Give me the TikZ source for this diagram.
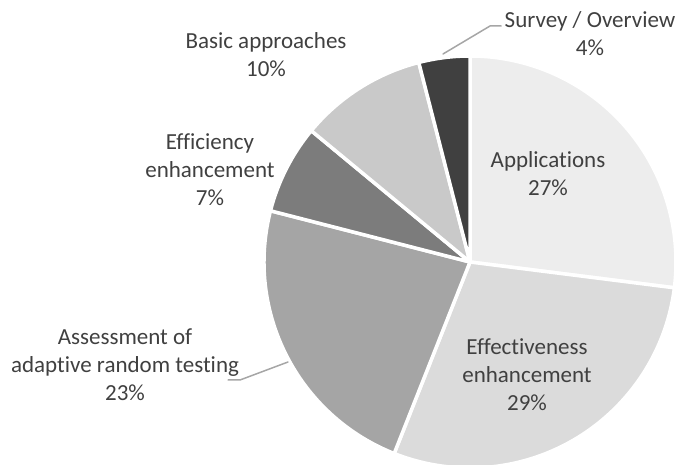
\documentclass[tikz,border=0pt]{standalone}
\usepackage{fontspec}
\setmainfont{Carlito}[Ligatures=NoCommon]
\usetikzlibrary{calc}
\definecolor{txtgray}{RGB}{64,64,64}
\definecolor{leadgray}{RGB}{166,166,166}
\definecolor{appgray}{RGB}{237,237,237}
\definecolor{effgray}{RGB}{219,219,219}
\definecolor{assgray}{RGB}{165,165,165}
\definecolor{ficgray}{RGB}{124,124,124}
\definecolor{basgray}{RGB}{201,201,201}
\definecolor{svygray}{RGB}{64,64,64}
\begin{document}
\begin{tikzpicture}[x=1pt,y=1pt,line join=round,line cap=round,
	lbl/.style={text=txtgray,align=center,font=\fontsize{23}{28}\selectfont},
	leader/.style={draw=leadgray,line width=1.5pt}]
			\def\r{206}
			\useasboundingbox (0,0) rectangle (690,465);
			\coordinate (O) at (470,203);
			% slices, clockwise from the top
			\foreach \a/\b/\c in {90/-7.2/appgray,-7.2/-111.6/effgray,-111.6/-194.4/assgray,-194.4/-219.6/ficgray,-219.6/-255.6/basgray,-255.6/-270/svygray}
				\filldraw[fill=\c,draw=white,line width=3.5pt] (O) -- ($(O)+(\a:\r)$) arc[start angle=\a,end angle=\b,radius=\r] -- cycle;
			% labels
			\node[lbl] (app) at (548,291) {Applications\\27\%};
			\node[lbl] (eff) at (527,90) {Effectiveness\\enhancement\\29\%};
			\node[lbl] (ass) at (125,100) {Assessment of\\adaptive random testing\\23\%};
			\node[lbl] (fic) at (210,295) {Efficiency\\enhancement\\7\%};
			\node[lbl] (bas) at (266,410) {Basic approaches\\10\%};
			\node[lbl] (svy) at (590,431) {Survey / Overview\\4\%};
			% leaders
			\coordinate (svy-edge) at (443,411);
			\coordinate (svy-knee) at (490,439);
			\coordinate (ass-edge) at (288,103);
			\coordinate (ass-knee) at (240,85);
			\coordinate (ass-end) at (228,85);
			\draw[leader] (svy-edge) -- (svy-knee) -- (svy.west |- svy-knee);
			\draw[leader] (ass-edge) -- (ass-knee) -- (ass-end);
	\end{tikzpicture}
\end{document}
